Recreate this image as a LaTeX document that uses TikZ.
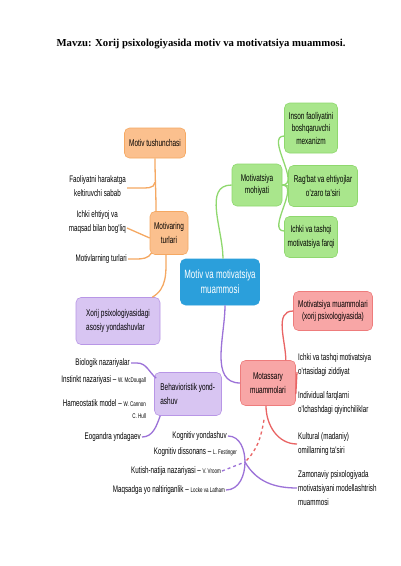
\documentclass[tikz,border=0pt]{standalone}
\usepackage{fontspec}
\setmainfont{Liberation Serif}
\newfontfamily\cond[FakeStretch=0.66]{Liberation Sans}
\usetikzlibrary{calc}
\definecolor{orfill}{HTML}{FBC08E}
\definecolor{ordraw}{HTML}{F5A862}
\definecolor{grfill}{HTML}{A9E68C}
\definecolor{grdraw}{HTML}{8FD86E}
\definecolor{blfill}{HTML}{2B9FDB}
\definecolor{pufill}{HTML}{D8C5F2}
\definecolor{pudraw}{HTML}{B896E6}
\definecolor{puline}{HTML}{9C72D8}
\definecolor{refill}{HTML}{F8A6A6}
\definecolor{redraw}{HTML}{EE7C7C}
\definecolor{reline}{HTML}{E96464}
\tikzset{
  box/.style={rounded corners=5pt, line width=0.6pt, align=center, inner sep=1pt, font=\cond\fontsize{9.8}{11.5}\selectfont},
  obox/.style={box, fill=orfill, draw=ordraw},
  gbox/.style={box, fill=grfill, draw=grdraw},
  pbox/.style={box, fill=pufill, draw=pudraw},
  rbox/.style={box, fill=refill, draw=redraw},
  lbl/.style={inner sep=1pt, font=\cond\fontsize{9.5}{13.8}\selectfont},
  ol/.style={draw=ordraw, line width=1.3pt},
  gl/.style={draw=grdraw, line width=1.3pt},
  pl/.style={draw=puline, line width=1.3pt},
  rl/.style={draw=reline, line width=1.3pt},
}
\newcommand{\smt}[1]{{\fontsize{6.8}{8}\selectfont #1}}
\begin{document}
\begin{tikzpicture}[x=1pt,y=-1pt]
\useasboundingbox (0,0) rectangle (400,566);
\fill[white] (0,0) rectangle (400,566);

\node[font=\bfseries\fontsize{10.7}{12}\selectfont] (title) at (201,44) {Mavzu: Xorij psixologiyasida motiv va motivatsiya muammosi.};

% orange
\node[obox, minimum width=61pt, minimum height=30pt] (mt) at (155,143) {Motiv tushunchasi};
\node[obox, minimum width=38pt, minimum height=43pt] (mtur) at (169,233) {Motivaring\\[2pt]turlari};
% green
\node[gbox, minimum width=50pt, minimum height=42pt] (mm) at (257,185) {Motivatsiya\\[1pt]mohiyati};
\node[gbox, minimum width=53pt, minimum height=50pt] (g1) at (311,128) {Inson faoliyatini\\[1pt]boshqaruvchi\\[1pt]mexanizm};
\node[gbox, minimum width=69pt, minimum height=41pt] (g2) at (323,186) {Rag'bat va ehtiyojlar\\[2pt]o'zaro ta'siri};
\node[gbox, minimum width=53pt, minimum height=41pt] (g3) at (311,237) {Ichki va tashqi\\[2pt]motivatsiya farqi};
% center
\node[box, fill=blfill, draw=blfill, text=white, minimum width=79pt, minimum height=46pt, font=\cond\fontsize{12}{14}\selectfont] (cen) at (220,282) {Motiv va motivatsiya\\[1pt]muammosi};
% purple
\node[pbox, minimum width=84pt, minimum height=47pt, align=left] (xo) at (118,321) {Xorij psixologiyasidagi\\[2pt]asosiy yondashuvlar};
\node[pbox, minimum width=67pt, minimum height=43pt, align=left] (beh) at (188,394) {Behavioristik yond-\\[2pt]ashuv\hspace*{38pt}};
% red
\node[rbox, minimum width=55pt, minimum height=45pt] (mot) at (268,383) {Motassary\\[2pt]muammolari};
\node[rbox, minimum width=79pt, minimum height=39pt] (mm2) at (333,311) {Motivatsiya muammolari\\[1pt](xorij psixologiyasida)};

% left labels (orange)
\node[lbl, anchor=east, align=center] (fa) at (127,186) {Faoliyatni harakatga\\keltiruvchi sabab};
\node[lbl, anchor=east, align=center] (ic) at (127,222) {Ichki ehtiyoj va\\maqsad bilan bog'liq};
\node[lbl, anchor=east] (ml) at (128,259) {Motivlarning turlari};

% right labels (red)
\node[lbl, anchor=west, align=left] (r1) at (297,365) {Ichki va tashqi motivatsiya\\o'rtasidagi ziddiyat};
\node[lbl, anchor=west, align=left] (r2) at (297,403) {Individual farqlarni\\o'lchashdagi qiyinchiliklar};
\node[lbl, anchor=west, align=left] (r3) at (297,444) {Kultural (madaniy)\\omillarning ta'siri};
\node[lbl, anchor=west, align=left] (r4) at (297,488) {Zamonaviy psixologiyada\\motivatsiyani modellashtrish\\muammosi};

% behaviorist labels
\node[lbl, anchor=east] (b1) at (131,363) {Biologik nazariyalar};
\node[lbl, anchor=east] (b2) at (147,380) {Instinkt nazariyasi – \smt{W. McDougall}};
\node[lbl, anchor=east] (b3) at (147,403) {Hameostatik model – \smt{W. Cannon}};
\node[lbl, anchor=east] (b3b) at (147,416) {\smt{C. Hull}};
\node[lbl, anchor=east] (b4) at (142,437) {Eogandra yndagaev};

% cognitive labels
\node[lbl, anchor=east] (k1) at (228,436) {Kognitiv yondashuv};
\node[lbl, anchor=east] (k2) at (238,452) {Kognitiv dissonans – \smt{L. Festinger}};
\node[lbl, anchor=east] (k3) at (222,471) {Kutish-natija nazariyasi – \smt{V. Vroom}};
\node[lbl, anchor=east] (k4) at (226,490) {Maqsadga yo naltiriganlik – \smt{Locke va Latham}};

\coordinate (kb) at (245,462);

% orange connectors
\draw[ol] (mt.south) to[out=-90,in=90] ([xshift=-13pt]mtur.north);
\draw[ol] ([yshift=-2pt]fa.east) -- ++(12,0) to[out=0,in=-95] ([yshift=-24pt]mt.south);
\draw[ol] ([yshift=-6pt]ic.east) -- ([yshift=-5pt]mtur.west);
\draw[ol] (ml.east) -- ++(8,0) to[out=0,in=-120] ([xshift=2pt,yshift=2pt]mtur.south west);
\draw[ol] ([xshift=-3pt]mtur.south) to[out=-90,in=30] ([xshift=-8pt]xo.north east);

% green connectors
\draw[gl] ([xshift=3pt]cen.north) to[out=90,in=180] (mm.west);
\draw[gl] (mm.east) to[out=0,in=180] ([yshift=-8pt]g1.west);
\draw[gl] (mm.east) -- (g2.west);
\draw[gl] (mm.east) to[out=0,in=180] ([yshift=6pt]g3.west);

% purple connectors
\draw[pl] ([xshift=5pt]cen.south) to[out=-90,in=180] (mot.west);
\draw[pl] (b1.east) -- ++(6,0) to[out=0,in=140] ([yshift=-6pt,xshift=2pt]beh.north west);
\draw[pl] (b4.east) to[out=0,in=-110] ([xshift=6pt]beh.south west);
\draw[pl] (k1.east) to[out=0,in=90] (kb) to[out=-90,in=0] (k4.east);
\draw[pl, dashed] (k3.east) -- (kb);
\draw[pl] (kb) to[out=-60,in=180] (r4.west);

% red connectors
\draw[rl] ([xshift=-10pt]mot.north east) to[out=90,in=180] (mm2.west);
\draw[rl] ([yshift=-11pt]mot.east) -- ([yshift=-7pt]r1.west);
\draw[rl] ([xshift=-2pt]mot.south) to[out=-90,in=180] (r3.west);
\draw[rl, dashed] ([xshift=-4pt,yshift=-14pt]mot.south) to[out=-100,in=45] (kb);
\end{tikzpicture}
\end{document}
